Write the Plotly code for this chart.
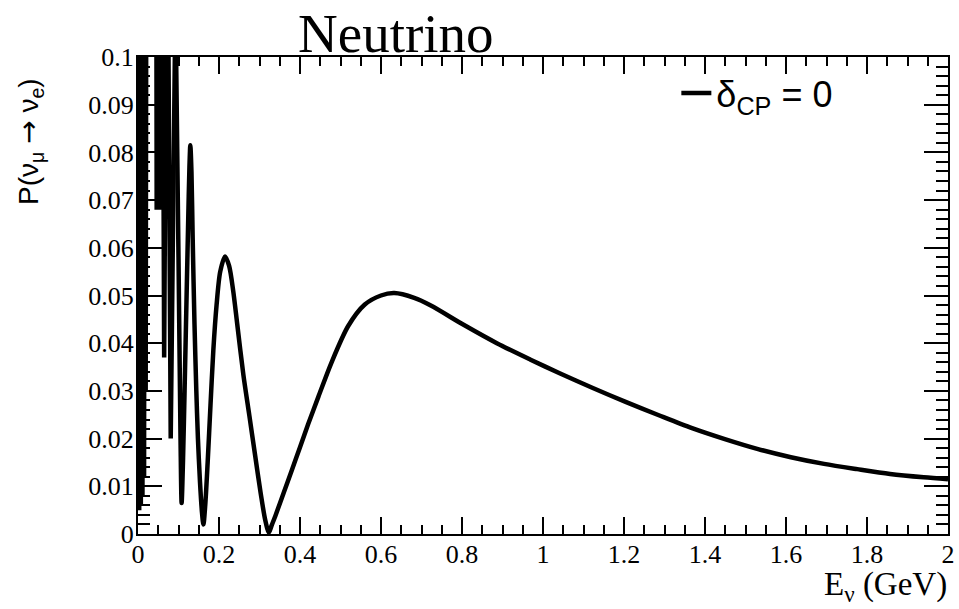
import plotly.graph_objects as go

# ---- data ----
# fast, aliased oscillation region (drawn as straight segments)
E_FAST = [0.001, 0.003, 0.005, 0.007, 0.009, 0.011, 0.013, 0.015, 0.017, 0.019,
          0.021, 0.025, 0.030, 0.035, 0.040, 0.0440, 0.0461, 0.0495, 0.0530,
          0.0585, 0.0646, 0.0720, 0.0808, 0.0925]
P_FAST = [0.12, 0.005, 0.14, 0.006, 0.16, 0.008, 0.20, 0.012, 0.25, 0.03,
          0.30, 0.40, 0.30, 0.35, 0.25, 0.20, 0.068, 0.20, 0.068,
          0.18, 0.037, 0.15, 0.020, 0.112]

# smooth region
E_SMOOTH = [0.0925, 0.1000, 0.1050, 0.1077, 0.1110, 0.1150, 0.1200, 0.1240, 0.1270,
            0.1292, 0.1320, 0.1350, 0.1395, 0.1440, 0.1480, 0.1530, 0.1580, 0.1615,
            0.1660, 0.1720, 0.1790, 0.1860, 0.1940, 0.2030, 0.2150, 0.2250, 0.2350,
            0.2450, 0.2600, 0.2750, 0.2900, 0.3030, 0.3140, 0.3231, 0.3300, 0.3400,
            0.3600, 0.3800, 0.4000, 0.4200, 0.4455, 0.4780, 0.5190, 0.5600, 0.6000,
            0.6330, 0.6820, 0.7230, 0.8050, 0.8860, 0.9680, 1.0410, 1.1230,
            1.2040, 1.2860, 1.3680, 1.4490, 1.5310, 1.6120, 1.6940, 1.7760,
            1.8570, 1.9400, 2.0000]
P_SMOOTH = [0.112, 0.058, 0.020, 0.0065, 0.0150, 0.0300, 0.0500, 0.0660, 0.0770,
            0.0815, 0.0760, 0.0620, 0.0440, 0.0300, 0.0200, 0.0110, 0.0045, 0.0020,
            0.0060, 0.0150, 0.0270, 0.0385, 0.0480, 0.0550, 0.0582, 0.0562, 0.0510,
            0.0440, 0.0335, 0.0248, 0.0160, 0.0085, 0.0030, 0.0003, 0.0018, 0.0040,
            0.0087, 0.0134, 0.0182, 0.0230, 0.0288, 0.0360, 0.0436, 0.0481, 0.0500,
            0.0505, 0.0495, 0.0479, 0.0438, 0.0400, 0.0366, 0.0337, 0.0306,
            0.0277, 0.0249, 0.0222, 0.0199, 0.0178, 0.0161, 0.0147, 0.0136,
            0.0126, 0.0119, 0.0115]

X_TICKS = [0, 0.2, 0.4, 0.6, 0.8, 1.0, 1.2, 1.4, 1.6, 1.8, 2.0]
X_TICK_TEXT = ["0", "0.2", "0.4", "0.6", "0.8", "1", "1.2", "1.4", "1.6", "1.8", "2"]
Y_TICKS = [0, 0.01, 0.02, 0.03, 0.04, 0.05, 0.06, 0.07, 0.08, 0.09, 0.1]
Y_TICK_TEXT = ["0", "0.01", "0.02", "0.03", "0.04", "0.05", "0.06", "0.07", "0.08", "0.09", "0.1"]

SERIES_NAME = "δ<sub>CP</sub> = 0"

# ---- figure ----
W, H = 959, 609
L, R, T, B = 138, 4, 57, 75
pw, ph = W - L - R, H - T - B


def px_x(px):
    return (px - L) / pw


def px_y(py):
    return (H - B - py) / ph


fig = go.Figure()
fig.add_trace(go.Scatter(x=E_FAST, y=P_FAST, mode="lines",
                         line=dict(color="black", width=4.5, shape="linear"),
                         showlegend=False, hoverinfo="skip"))
fig.add_trace(go.Scatter(x=E_SMOOTH, y=P_SMOOTH, mode="lines",
                         line=dict(color="black", width=4.5, shape="spline", smoothing=0.8),
                         name=SERIES_NAME, showlegend=True))

serif = "Liberation Serif, Times New Roman, serif"
sans = "Liberation Sans, Arial, sans-serif"

common = dict(showline=True, linecolor="black", linewidth=2, mirror="allticks",
              ticks="inside", tickcolor="black", tickwidth=1.5,
              showgrid=False, zeroline=False, ticklabeloverflow="allow",
              tickfont=dict(family=serif, size=26, color="black"))

fig.update_xaxes(range=[0, 2], tickmode="array", tickvals=X_TICKS, ticktext=X_TICK_TEXT,
                 ticklen=17, ticklabelstandoff=-4,
                 minor=dict(dtick=0.05, tick0=0, ticklen=9, ticks="inside",
                            tickcolor="black", tickwidth=1.5),
                 **common)
fig.update_yaxes(range=[0, 0.1], tickmode="array", tickvals=Y_TICKS, ticktext=Y_TICK_TEXT,
                 ticklen=24, ticklabelstandoff=-3,
                 minor=dict(dtick=0.002, tick0=0, ticklen=12, ticks="inside",
                            tickcolor="black", tickwidth=1.5),
                 **common)

fig.update_layout(
    width=W, height=H, autosize=False,
    margin=dict(l=L, r=R, t=T, b=B, pad=0),
    paper_bgcolor="white", plot_bgcolor="white",
    legend=dict(x=px_x(681), y=px_y(93), xanchor="left", yanchor="middle",
                bgcolor="rgba(0,0,0,0)", borderwidth=0,
                font=dict(family=sans, size=36, color="black")),
    annotations=[
        dict(text="Neutrino", xref="paper", yref="paper", x=px_x(297), y=px_y(33),
             xanchor="left", yanchor="middle", showarrow=False,
             font=dict(family=serif, size=55, color="black")),
        dict(text="P(ν<sub>μ</sub> <span style=\"font-family:DejaVu Sans\">→</span> ν<sub>e</sub>)",
             xref="paper", yref="paper",
             x=px_x(29), y=px_y(141), xanchor="center", yanchor="middle", textangle=-90,
             showarrow=False, font=dict(family=sans, size=28, color="black")),
        dict(text="E<sub>ν</sub> (GeV)", xref="paper", yref="paper",
             x=px_x(956), y=px_y(586), xanchor="right", yanchor="middle",
             showarrow=False, font=dict(family=serif, size=33, color="black")),
    ],
)

fig.write_html("out.html", config={"displayModeBar": False},
               post_script="document.body.style.margin='0px';document.body.style.padding='0px';")
